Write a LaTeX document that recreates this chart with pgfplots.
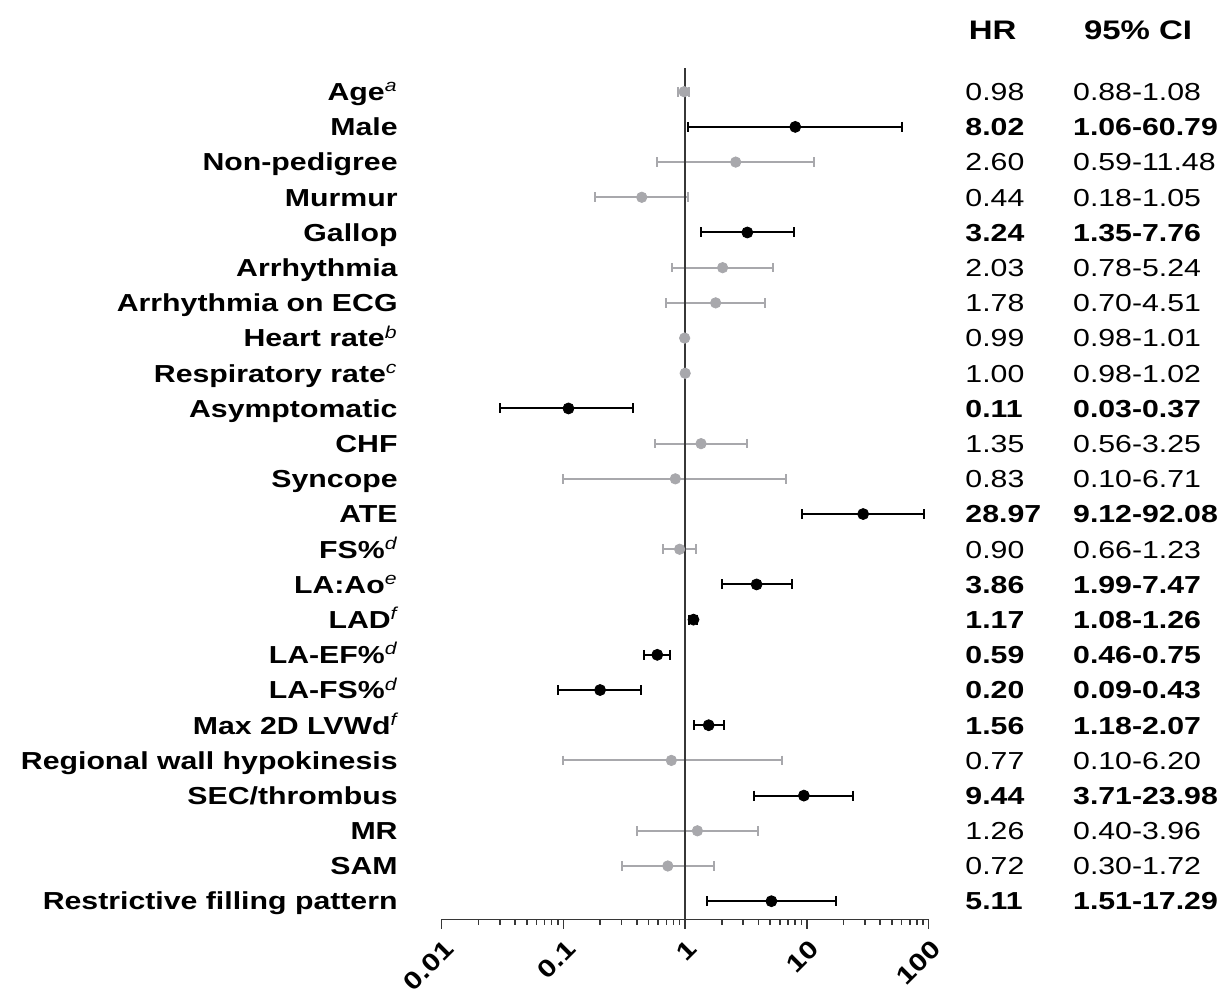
\documentclass[border=0pt]{standalone}
\usepackage{pgfplots}
\pgfplotsset{compat=1.18}
\usepackage{fontspec}
\setmainfont{Liberation Sans}[FakeStretch=1.23]
\newcommand{\fs}{\fontsize{12.3}{14}\selectfont}
\newcommand{\hs}{\fontsize{13.4}{15}\selectfont}
\definecolor{sig}{RGB}{0,0,0}
\definecolor{ns}{RGB}{168,168,172}
\definecolor{refl}{RGB}{55,55,55}
\newcommand{\supi}[1]{\textsuperscript{\mdseries\itshape #1}}
\begin{document}
\begin{tikzpicture}
\useasboundingbox (-220.85pt,-34.75pt) rectangle (390.65pt,459.75pt);
\begin{axis}[
  scale only axis, width=243.5pt, height=425.6pt,
  xmode=log, xmin=0.01, xmax=100,
  ymin=-0.665, ymax=23.52, y dir=reverse,
  axis x line*=bottom, axis y line=none,
  x axis line style={line width=0.9pt, refl},
  xtick={0.01,0.1,1,10,100}, xticklabels={0.01,0.1,1,10,100},
  minor xtick={0.02,0.03,0.04,0.05,0.06,0.07,0.08,0.09,0.2,0.3,0.4,0.5,0.6,0.7,0.8,0.9,2,3,4,5,6,7,8,9,20,30,40,50,60,70,80,90},
  ytick=\empty,
  tick align=outside, major tick length=4.5pt, minor tick length=2.7pt,
  every tick/.style={refl, line width=0.8pt},
  xticklabel style={xshift=4pt, yshift=-8pt, rotate=45, anchor=east, inner sep=0pt, font=\fs\bfseries},
  clip=false,
  every node/.append style={inner sep=0pt, font=\fs},
]
% confidence intervals, not significant
\addplot[ns, line width=1pt, mark=|, mark size=2.4pt, mark options={solid, line width=1pt}, unbounded coords=jump] coordinates {
 (0.88,0) (1.08,0) (nan,nan)
 (0.59,2) (11.48,2) (nan,nan)
 (0.18,3) (1.05,3) (nan,nan)
 (0.78,5) (5.24,5) (nan,nan)
 (0.70,6) (4.51,6) (nan,nan)
 (0.98,7) (1.01,7) (nan,nan)
 (0.98,8) (1.02,8) (nan,nan)
 (0.56,10) (3.25,10) (nan,nan)
 (0.10,11) (6.71,11) (nan,nan)
 (0.66,13) (1.23,13) (nan,nan)
 (0.10,19) (6.20,19) (nan,nan)
 (0.40,21) (3.96,21) (nan,nan)
 (0.30,22) (1.72,22)
};
\addplot[only marks, mark=*, mark size=2.6pt, draw=ns, fill=ns] coordinates {
 (0.98,0) (2.60,2) (0.44,3) (2.03,5) (1.78,6) (0.99,7) (1.00,8)
 (1.35,10) (0.83,11) (0.90,13) (0.77,19) (1.26,21) (0.72,22)
};
% reference line at HR = 1
\addplot[refl, line width=0.95pt] coordinates {(1,-0.665) (1,23.52)};
% confidence intervals, significant
\addplot[sig, line width=1pt, mark=|, mark size=2.5pt, mark options={solid, line width=1pt}, unbounded coords=jump] coordinates {
 (1.06,1) (60.79,1) (nan,nan)
 (1.35,4) (7.76,4) (nan,nan)
 (0.03,9) (0.37,9) (nan,nan)
 (9.12,12) (92.08,12) (nan,nan)
 (1.99,14) (7.47,14) (nan,nan)
 (1.08,15) (1.26,15) (nan,nan)
 (0.46,16) (0.75,16) (nan,nan)
 (0.09,17) (0.43,17) (nan,nan)
 (1.18,18) (2.07,18) (nan,nan)
 (3.71,20) (23.98,20) (nan,nan)
 (1.51,23) (17.29,23)
};
\addplot[only marks, mark=*, mark size=2.75pt, draw=sig, fill=sig] coordinates {
 (8.02,1) (3.24,4) (0.11,9) (28.97,12) (3.86,14) (1.17,15) (0.59,16)
 (0.20,17) (1.56,18) (9.44,20) (5.11,23)
};
% row labels
\begin{scope}[every node/.style={anchor=base east, inner sep=0pt, font=\fs\bfseries, xshift=-21.85pt, yshift=-4.4pt}]
\node at (axis cs:0.01,0) {Age\supi{a}};
\node at (axis cs:0.01,1) {Male};
\node at (axis cs:0.01,2) {Non-pedigree};
\node at (axis cs:0.01,3) {Murmur};
\node at (axis cs:0.01,4) {Gallop};
\node at (axis cs:0.01,5) {Arrhythmia};
\node at (axis cs:0.01,6) {Arrhythmia on ECG};
\node at (axis cs:0.01,7) {Heart rate\supi{b}};
\node at (axis cs:0.01,8) {Respiratory rate\supi{c}};
\node at (axis cs:0.01,9) {Asymptomatic};
\node at (axis cs:0.01,10) {CHF};
\node at (axis cs:0.01,11) {Syncope};
\node at (axis cs:0.01,12) {ATE};
\node at (axis cs:0.01,13) {FS\%\supi{d}};
\node at (axis cs:0.01,14) {LA:Ao\supi{e}};
\node at (axis cs:0.01,15) {LAD\supi{f}};
\node at (axis cs:0.01,16) {LA-EF\%\supi{d}};
\node at (axis cs:0.01,17) {LA-FS\%\supi{d}};
\node at (axis cs:0.01,18) {Max 2D LVWd\supi{f}};
\node at (axis cs:0.01,19) {Regional wall hypokinesis};
\node at (axis cs:0.01,20) {SEC/thrombus};
\node at (axis cs:0.01,21) {MR};
\node at (axis cs:0.01,22) {SAM};
\node at (axis cs:0.01,23) {Restrictive filling pattern};
\end{scope}
% headers
\node[anchor=base, font=\hs\bfseries, xshift=31.95pt] at (axis cs:100,-1.469) {HR};
\node[anchor=base, font=\hs\bfseries, xshift=104.7pt] at (axis cs:100,-1.469) {95\% CI};
% HR column
\begin{scope}[every node/.style={anchor=base west, inner sep=0pt, font=\fs, xshift=18.2pt, yshift=-4.4pt}]
\node at (axis cs:100,0) {0.98};
\node[font=\fs\bfseries] at (axis cs:100,1) {8.02};
\node at (axis cs:100,2) {2.60};
\node at (axis cs:100,3) {0.44};
\node[font=\fs\bfseries] at (axis cs:100,4) {3.24};
\node at (axis cs:100,5) {2.03};
\node at (axis cs:100,6) {1.78};
\node at (axis cs:100,7) {0.99};
\node at (axis cs:100,8) {1.00};
\node[font=\fs\bfseries] at (axis cs:100,9) {0.11};
\node at (axis cs:100,10) {1.35};
\node at (axis cs:100,11) {0.83};
\node[font=\fs\bfseries] at (axis cs:100,12) {28.97};
\node at (axis cs:100,13) {0.90};
\node[font=\fs\bfseries] at (axis cs:100,14) {3.86};
\node[font=\fs\bfseries] at (axis cs:100,15) {1.17};
\node[font=\fs\bfseries] at (axis cs:100,16) {0.59};
\node[font=\fs\bfseries] at (axis cs:100,17) {0.20};
\node[font=\fs\bfseries] at (axis cs:100,18) {1.56};
\node at (axis cs:100,19) {0.77};
\node[font=\fs\bfseries] at (axis cs:100,20) {9.44};
\node at (axis cs:100,21) {1.26};
\node at (axis cs:100,22) {0.72};
\node[font=\fs\bfseries] at (axis cs:100,23) {5.11};
\end{scope}
% CI column
\begin{scope}[every node/.style={anchor=base west, inner sep=0pt, font=\fs, xshift=72.05pt, yshift=-4.4pt}]
\node at (axis cs:100,0) {0.88-1.08};
\node[font=\fs\bfseries] at (axis cs:100,1) {1.06-60.79};
\node at (axis cs:100,2) {0.59-11.48};
\node at (axis cs:100,3) {0.18-1.05};
\node[font=\fs\bfseries] at (axis cs:100,4) {1.35-7.76};
\node at (axis cs:100,5) {0.78-5.24};
\node at (axis cs:100,6) {0.70-4.51};
\node at (axis cs:100,7) {0.98-1.01};
\node at (axis cs:100,8) {0.98-1.02};
\node[font=\fs\bfseries] at (axis cs:100,9) {0.03-0.37};
\node at (axis cs:100,10) {0.56-3.25};
\node at (axis cs:100,11) {0.10-6.71};
\node[font=\fs\bfseries] at (axis cs:100,12) {9.12-92.08};
\node at (axis cs:100,13) {0.66-1.23};
\node[font=\fs\bfseries] at (axis cs:100,14) {1.99-7.47};
\node[font=\fs\bfseries] at (axis cs:100,15) {1.08-1.26};
\node[font=\fs\bfseries] at (axis cs:100,16) {0.46-0.75};
\node[font=\fs\bfseries] at (axis cs:100,17) {0.09-0.43};
\node[font=\fs\bfseries] at (axis cs:100,18) {1.18-2.07};
\node at (axis cs:100,19) {0.10-6.20};
\node[font=\fs\bfseries] at (axis cs:100,20) {3.71-23.98};
\node at (axis cs:100,21) {0.40-3.96};
\node at (axis cs:100,22) {0.30-1.72};
\node[font=\fs\bfseries] at (axis cs:100,23) {1.51-17.29};
\end{scope}
\end{axis}
\end{tikzpicture}
\end{document}
